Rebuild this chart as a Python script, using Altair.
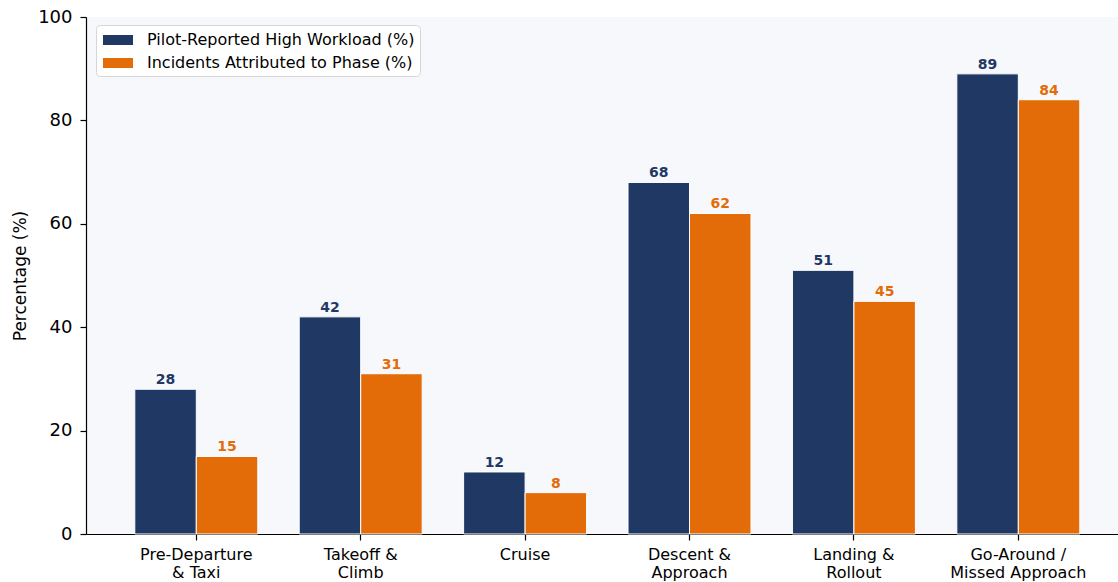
import altair as alt
import pandas as pd

phases = ["Pre-Departure|& Taxi", "Takeoff &|Climb", "Cruise",
          "Descent &|Approach", "Landing &|Rollout", "Go-Around /|Missed Approach"]
workload = [28, 42, 12, 68, 51, 89]
incidents = [15, 31, 8, 62, 45, 84]
series = ["Pilot-Reported High Workload (%)", "Incidents Attributed to Phase (%)"]
colors = ["#1f3864", "#e36c09"]
y_ticks = [0, 20, 40, 60, 80, 100]

rows = []
for p, w, i in zip(phases, workload, incidents):
    rows.append({"phase": p, "series": series[0], "value": w})
    rows.append({"phase": p, "series": series[1], "value": i})
df = pd.DataFrame(rows)

FONT = "DejaVu Sans"

x_enc = alt.X(
    "phase:N", sort=phases,
    scale=alt.Scale(paddingInner=0.252, paddingOuter=0.2646, align=0.561, round=False),
    axis=alt.Axis(title=None, labelAngle=0, labelExpr="split(datum.label, '|')",
                  labelFontSize=16, labelFont=FONT, labelColor="black",
                  labelPadding=6, labelLineHeight=18,
                  tickSize=6, tickColor="black", domainColor="black", domainWidth=1.2,
                  tickWidth=1.2, grid=False),
)
xo_enc = alt.XOffset("series:N", sort=series, scale=alt.Scale(paddingInner=0, paddingOuter=0))
y_enc = alt.Y(
    "value:Q",
    scale=alt.Scale(domain=[0, 100], nice=False),
    axis=alt.Axis(title="Percentage (%)", values=y_ticks, grid=False,
                  labelFontSize=18, labelFont=FONT, labelColor="black", labelPadding=8,
                  tickSize=6, tickColor="black", tickWidth=1.2,
                  domainColor="black", domainWidth=1.2,
                  titleFontSize=17, titleFont=FONT, titleFontWeight="normal",
                  titleColor="black", titlePadding=8),
)

bars = alt.Chart(df).mark_bar(stroke="white", strokeWidth=1).encode(
    x=x_enc, xOffset=xo_enc, y=y_enc,
    color=alt.Color("series:N", sort=series,
                    scale=alt.Scale(domain=series, range=colors),
                    legend=alt.Legend(title=None, orient="none", legendX=10, legendY=8,
                                      fillColor="white", strokeColor="#d6d6d6",
                                      cornerRadius=4, padding=5,
                                      symbolType="M-1.5,-0.5H1.5V0.5H-1.5Z",
                                      symbolSize=400, symbolStrokeWidth=0,
                                      symbolOffset=7, labelOffset=19,
                                      labelFontSize=16, labelFont=FONT, labelColor="black",
                                      labelLimit=500, rowPadding=5)),
)

labels = alt.Chart(df).mark_text(fontWeight="bold", fontSize=14, font=FONT,
                                 baseline="alphabetic", dy=-5).encode(
    x=x_enc, xOffset=xo_enc, y=y_enc,
    text=alt.Text("value:Q"),
    color=alt.Color("series:N", sort=series,
                    scale=alt.Scale(domain=series, range=colors), legend=None),
)

chart = alt.layer(bars, labels).properties(
    width=1032, height=517,
    autosize=alt.AutoSizeParams(type="none"),
    padding={"left": 86, "top": 17, "right": 0, "bottom": 48},
    background="white",
).configure_view(stroke=None, fill="#f7f8fc")

chart.save("out.html", embed_options={"renderer": "svg", "actions": False})
